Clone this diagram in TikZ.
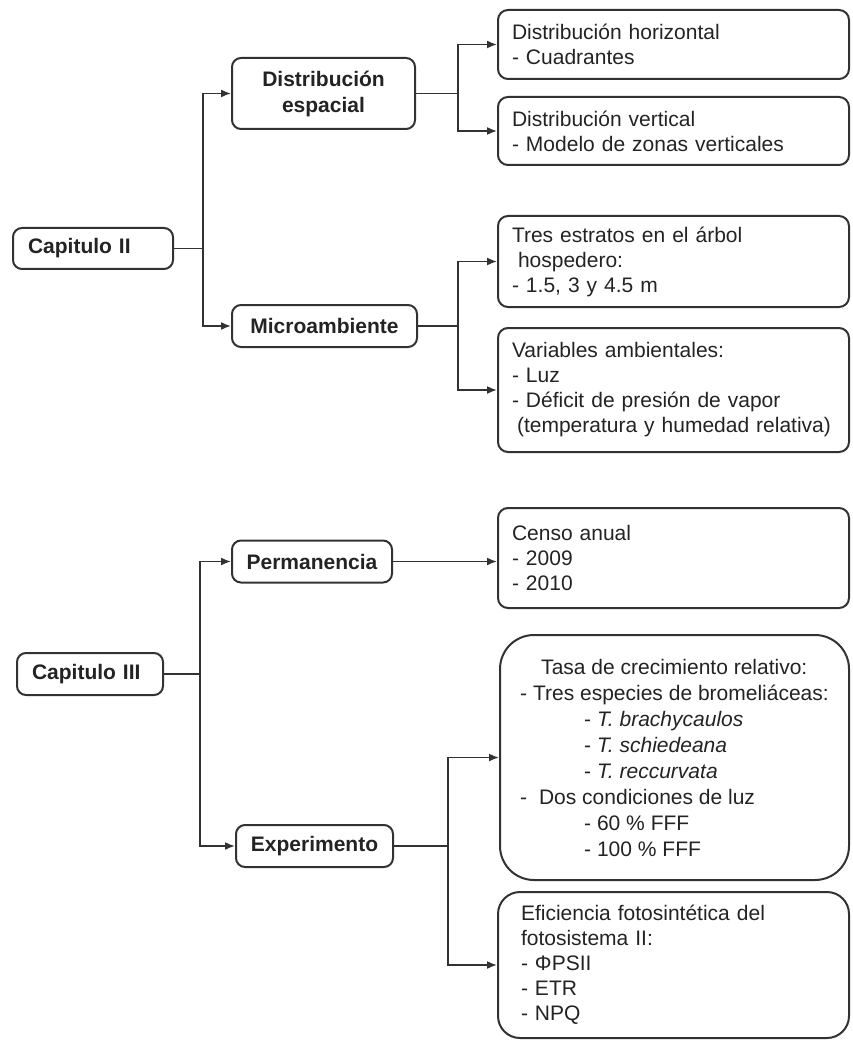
\documentclass[tikz,border=0pt]{standalone}
\usepackage{fontspec}
\setmainfont{Liberation Sans}
\usepackage{tikz}
\usetikzlibrary{arrows.meta, positioning, calc}
\definecolor{inkgray}{RGB}{35, 35, 35}
\definecolor{boxgray}{RGB}{50, 50, 50}

\begin{document}
\begin{tikzpicture}[x=1pt, y=-1pt,
  every node/.style={font=\fontsize{21}{25}\selectfont, text=inkgray},
  chapbox/.style={draw=boxgray, line width=2pt, rounded corners=9pt, font=\fontsize{21}{26}\selectfont\bfseries, minimum height=42pt, align=center},
  infobox/.style={draw=boxgray, line width=2pt, rounded corners=10pt, minimum width=351pt, text width=323pt, inner xsep=14pt, align=left},
  link/.style={draw=boxgray, line width=1.6pt},
  arrowlink/.style={link, -{Latex[length=10pt, width=8pt]}}]
  \useasboundingbox (0,0) rectangle (852,1040);

  % Capitulo II
  \node[chapbox, text width=130pt, inner xsep=15pt, align=left, minimum height=41pt] (cap2) at (93,248.5) {Capitulo II};
  \node[chapbox, minimum width=183pt, minimum height=71pt] (despacial) at (323.5,93.5) {Distribución\\espacial};
  \node[chapbox, minimum width=185pt] (micro) at (324.5,326) {Microambiente};

  % Distribucion espacial
  \node[infobox, minimum height=69pt] (dhoriz) at (673.5,44.5) {Distribución horizontal\\- Cuadrantes};
  \node[infobox, minimum height=68pt] (dvert) at (673.5,131) {Distribución vertical\\- Modelo de zonas verticales};

  % Microambiente
  \node[infobox, minimum height=91pt] (tres) at (673.5,261.5) {Tres estratos en el árbol\\\hspace*{6pt}hospedero:\\- 1.5, 3 y 4.5 m};
  \node[infobox, minimum height=124pt] (varamb) at (673.5,390) {Variables ambientales:\\- Luz\\- Déficit de presión de vapor\\\hspace*{5pt}(temperatura y humedad relativa)};

  \coordinate (k2) at ($(cap2.east)+(29,0)$);
  \draw[link] (cap2.east) -- (k2);
  \draw[arrowlink] (k2) |- (despacial);
  \draw[arrowlink] (k2) |- (micro);
  \coordinate (k2a) at ($(despacial.east)+(42,0)$);
  \draw[link] (despacial.east) -- (k2a);
  \draw[arrowlink] (k2a) |- (dhoriz);
  \draw[arrowlink] (k2a) |- (dvert);
  \coordinate (k2b) at ($(micro.east)+(40,0)$);
  \draw[link] (micro.east) -- (k2b);
  \draw[arrowlink] (k2b) |- (tres);
  \draw[arrowlink] (k2b) |- (varamb);

  % Capitulo III
  \node[chapbox, text width=116pt, inner xsep=15pt, align=left] (cap3) at (90,674) {Capitulo III};
  \node[chapbox, minimum width=160pt] (perm) at (312,561.5) {Permanencia};
  \node[chapbox, minimum width=157pt] (exp) at (314.5,846) {Experimento};

  % Permanencia
  \node[infobox, minimum height=100pt] (censo) at (673.5,558) {Censo anual\\- 2009\\- 2010};

  % Experimento
  \node[draw=boxgray, line width=2pt, rounded corners=34pt, minimum width=349pt, minimum height=245pt, align=left, font=\fontsize{21}{26}\selectfont] (tasa) at (674.5,757.5) {%
    \hspace*{21pt}Tasa de crecimiento relativo:\\
    - Tres especies de bromeliáceas:\\
    \hspace*{64pt}- \textit{T. brachycaulos}\\
    \hspace*{64pt}- \textit{T. schiedeana}\\
    \hspace*{64pt}- \textit{T. reccurvata}\\
    -\hspace*{6pt} Dos condiciones de luz\\
    \hspace*{64pt}- 60 \% FFF\\
    \hspace*{64pt}- 100 \% FFF};
  \node[infobox, minimum height=146pt, rounded corners=22pt, inner xsep=23pt, text width=305pt] (efic) at (673.5,965) {Eficiencia fotosintética del\\fotosistema II:\\- ΦPSII\\- ETR\\- NPQ};

  \coordinate (k3) at ($(cap3.east)+(36,0)$);
  \draw[link] (cap3.east) -- (k3);
  \draw[arrowlink] (k3) |- (perm);
  \draw[arrowlink] (k3) |- (exp);
  \draw[arrowlink] (perm.east) -- (perm.east -| censo.west);
  \coordinate (k3b) at ($(exp.east)+(54,0)$);
  \draw[link] (exp.east) -- (k3b);
  \draw[arrowlink] (k3b) |- (tasa);
  \draw[arrowlink] (k3b) |- (efic);
\end{tikzpicture}
\end{document}
